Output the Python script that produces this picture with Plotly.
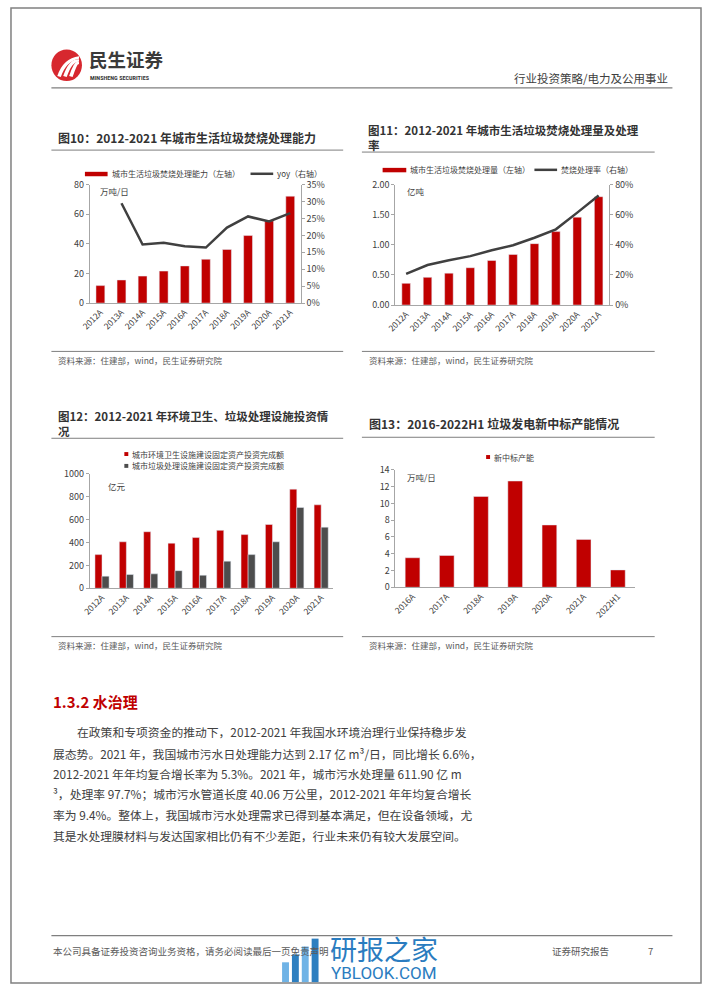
import plotly.graph_objects as go

W, H = 702, 991
FONT = "Noto Sans CJK SC"
RED = "#C00000"
DARK = "#404040"
GREY_BAR = "#4D4D4D"
AX = "#A6A6A6"

# ---------------- data ----------------
years_a = ["2012A", "2013A", "2014A", "2015A", "2016A", "2017A", "2018A", "2019A", "2020A", "2021A"]

cap_vals = [11.8, 15.6, 18.2, 21.6, 25.1, 29.6, 36.2, 45.6, 55.6, 72.2]          # 万吨/日
cap_yoy_years = years_a[1:]
cap_yoy = [0.295, 0.173, 0.178, 0.168, 0.164, 0.223, 0.256, 0.241, 0.266]

vol_vals = [0.36, 0.46, 0.53, 0.62, 0.74, 0.84, 1.02, 1.22, 1.46, 1.80]           # 亿吨
vol_rate = [0.207, 0.266, 0.298, 0.325, 0.364, 0.397, 0.447, 0.503, 0.614, 0.728]

inv_env = [294, 406, 494, 394, 443, 506, 469, 557, 866, 729]                      # 亿元
inv_waste = [106, 120, 126, 154, 114, 237, 294, 406, 706, 534]

years_b = ["2016A", "2017A", "2018A", "2019A", "2020A", "2021A", "2022H1"]
bid_vals = [3.52, 3.79, 10.83, 12.67, 7.43, 5.71, 2.07]                           # 万吨/日

para_lines = [
    "在政策和专项资金的推动下，2012-2021 年我国水环境治理行业保持稳步发",
    "展态势。2021 年，我国城市污水日处理能力达到 2.17 亿 m³/日，同比增长 6.6%，",
    "2012-2021 年年均复合增长率为 5.3%。2021 年，城市污水处理量 611.90 亿 m",
    "³，处理率 97.7%；城市污水管道长度 40.06 万公里，2012-2021 年年均复合增长",
    "率为 9.4%。整体上，我国城市污水处理需求已得到基本满足，但在设备领域，尤",
    "其是水处理膜材料与发达国家相比仍有不少差距，行业未来仍有较大发展空间。",
]


def X(px):
    return px / W


def Y(py):
    return 1 - py / H


fig = go.Figure()

# ---------------- traces ----------------
fig.add_trace(go.Bar(x=years_a, y=cap_vals, marker_color=RED, width=0.42,
                     xaxis="x", yaxis="y", showlegend=False))
fig.add_trace(go.Scatter(x=cap_yoy_years, y=cap_yoy, mode="lines",
                         line=dict(color=DARK, width=2.5), xaxis="x", yaxis="y2", showlegend=False))

fig.add_trace(go.Bar(x=years_a, y=vol_vals, marker_color=RED, width=0.4,
                     xaxis="x2", yaxis="y3", showlegend=False))
fig.add_trace(go.Scatter(x=years_a, y=vol_rate, mode="lines",
                         line=dict(color=DARK, width=2.5), xaxis="x2", yaxis="y4", showlegend=False))

fig.add_trace(go.Bar(x=years_a, y=inv_env, marker_color=RED, width=0.29, offset=-0.29,
                     xaxis="x3", yaxis="y5", showlegend=False))
fig.add_trace(go.Bar(x=years_a, y=inv_waste, marker_color=GREY_BAR, width=0.29, offset=0.0,
                     xaxis="x3", yaxis="y5", showlegend=False))

fig.add_trace(go.Bar(x=years_b, y=bid_vals, marker_color=RED, width=0.43,
                     xaxis="x4", yaxis="y6", showlegend=False))

tickfont = dict(family=FONT, size=9, color=DARK)


def xax(d0, d1, anchor):
    return dict(domain=[X(d0), X(d1)], anchor=anchor, type="category",
                showline=True, linecolor=AX, linewidth=1, ticks="",
                tickangle=-45, tickfont=dict(family=FONT, size=8.5, color=DARK),
                showgrid=False, fixedrange=True)


def yax(t, b, anchor, rng, dtick, fmt=None):
    d = dict(domain=[Y(b), Y(t)], anchor=anchor, range=rng, dtick=dtick,
             showline=True, linecolor=AX, linewidth=1, ticks="outside", ticklen=3,
             tickcolor=AX, tickfont=tickfont, showgrid=False, zeroline=False,
             fixedrange=True)
    if fmt:
        d["tickformat"] = fmt
    return d


def yright(over, anchor, rng, dtick, fmt):
    return dict(overlaying=over, side="right", anchor=anchor, range=rng, dtick=dtick,
                tickformat=fmt, showline=True, linecolor=AX, linewidth=1,
                ticks="outside", ticklen=3, tickcolor=AX, tickfont=tickfont,
                showgrid=False, zeroline=False, fixedrange=True)


layout = dict(
    width=W, height=H, margin=dict(l=0, r=0, t=0, b=0),
    paper_bgcolor="white", plot_bgcolor="rgba(0,0,0,0)",
    barmode="overlay", showlegend=False,
    font=dict(family=FONT, color=DARK),
    xaxis=xax(81, 295, "y"),
    yaxis=yax(180, 300, "x", [0, 80], 20),
    yaxis2=yright("y", "x", [0, 0.35], 0.05, ".0%"),
    xaxis2=xax(391, 608, "y3"),
    yaxis3=yax(180, 302, "x2", [0, 2], 0.5, ".2f"),
    yaxis4=yright("y3", "x2", [0, 0.8], 0.2, ".0%"),
    xaxis3=xax(81, 328, "y5"),
    yaxis5=yax(473, 589, "x3", [0, 1000], 200),
    xaxis4=xax(391, 634, "y6"),
    yaxis6=yax(469, 588, "x4", [0, 14], 2),
)
fig.update_layout(**layout)

shapes = []
ann = []


def line(x0, y0, x1, y1, color="#808080", width=1):
    shapes.append(dict(type="line", xref="paper", yref="paper",
                       x0=X(x0), y0=Y(y0), x1=X(x1), y1=Y(y1),
                       line=dict(color=color, width=width)))


def rect(x0, y0, x1, y1, color, lw=0, lc=None, fill=True):
    shapes.append(dict(type="rect", xref="paper", yref="paper",
                       x0=X(x0), y0=Y(y0), x1=X(x1), y1=Y(y1),
                       fillcolor=color if fill else "rgba(0,0,0,0)",
                       line=dict(width=lw, color=lc or color)))


def text(x, y, s, size=9, color=DARK, anchor="left", bold=False, family=FONT):
    if bold:
        s = "<b>" + s + "</b>"
    ann.append(dict(xref="paper", yref="paper", x=X(x), y=Y(y), text=s,
                    showarrow=False, xanchor=anchor, yanchor="middle", align="left",
                    font=dict(family=family, size=size, color=color)))


# page border
rect(1, 1, 701, 989, "white", lw=1.5, lc="#808080", fill=False)

# header
shapes.append(dict(type="circle", xref="paper", yref="paper",
                   x0=X(42), y0=Y(75), x1=X(73), y1=Y(43),
                   fillcolor="#D7282F", line=dict(width=0)))
for i in range(3):
    shapes.append(dict(type="path", xref="paper", yref="paper",
                       path=f"M {X(48+i*6)},{Y(70)} Q {X(54+i*6)},{Y(52)} {X(70)},{Y(50+i*3)} L {X(70)},{Y(52.5+i*3)} Q {X(57+i*6)},{Y(55)} {X(51.5+i*6)},{Y(71)} Z",
                       fillcolor="white", line=dict(width=0)))
text(78, 52.5, "民生证券", size=18.5, color="#3A3A3A", bold=True)
text(79, 72, "MINSHENG SECURITIES", size=6.2, color="#3A3A3A", bold=True, family="Roboto Condensed, Roboto")
text(670, 72, "行业投资策略/电力及公用事业", size=11.5, color="#404040", anchor="right")
line(42, 82, 672, 82, "#7F7F7F", 1.2)

# chart titles
text(47, 132, "图10：2012-2021 年城市生活垃圾焚烧处理能力", size=12, color="#333333", bold=True)
line(42, 145, 338, 145, "#7F7F7F", 1)
text(361, 132.5, "图11：2012-2021 年城市生活垃圾焚烧处理量及处理<br>率", size=11.5, color="#333333", bold=True)
line(357, 147, 654, 147, "#7F7F7F", 1)

text(47, 422.5, "图12：2012-2021 年环境卫生、垃圾处理设施投资情<br>况", size=11.5, color="#333333", bold=True)
line(42, 437, 338, 437, "#7F7F7F", 1)
text(362, 422, "图13：2016-2022H1 垃圾发电新中标产能情况", size=12, color="#333333", bold=True)
line(357, 436, 654, 436, "#7F7F7F", 1)

# legends
rect(76, 167, 99, 171.5, RED)
text(101, 169, "城市生活垃圾焚烧处理能力（左轴）", size=8)
line(244, 169, 267, 169, DARK, 2.5)
text(269, 169, "yoy（右轴）", size=8)

rect(378, 163, 402, 167.5, RED)
text(404, 165, "城市生活垃圾焚烧处理量（左轴）", size=8)
line(532, 165, 555, 165, DARK, 2.5)
text(557, 165, "焚烧处理率（右轴）", size=8)

rect(116, 451, 120, 455, RED)
text(122, 453, "城市环境卫生设施建设固定资产投资完成额", size=8)
rect(116, 463, 120, 467, GREY_BAR)
text(122, 465, "城市垃圾处理设施建设固定资产投资完成额", size=8)

rect(483, 454, 487, 458, RED)
text(489, 456, "新中标产能", size=8)

# unit labels
text(89, 186, "万吨/日", size=8.5)
text(401, 186, "亿吨", size=8.5)
text(97, 485, "亿元", size=8.5)
text(401, 476, "万吨/日", size=8.5)

# sources
line(42, 349, 338, 349, "#7F7F7F", 1)
line(357, 349, 654, 349, "#7F7F7F", 1)
text(47, 358, "资料来源：住建部，wind，民生证券研究院", size=8.5, color="#595959")
text(362, 358, "资料来源：住建部，wind，民生证券研究院", size=8.5, color="#595959")
line(42, 638, 338, 638, "#7F7F7F", 1)
line(357, 638, 654, 638, "#7F7F7F", 1)
text(47, 646, "资料来源：住建部，wind，民生证券研究院", size=8.5, color="#595959")
text(362, 646, "资料来源：住建部，wind，民生证券研究院", size=8.5, color="#595959")

# section text
text(42, 704, "1.3.2 水治理", size=15, color=RED, bold=True)
ys = [734, 756, 777, 797, 818, 840]
for i, (s, yy) in enumerate(zip(para_lines, ys)):
    text(66 if i == 0 else 42, yy, s, size=11.8, color="#404040")

# footer
line(42, 941, 672, 941, "#7F7F7F", 1.2)
text(42, 957, "本公司具备证券投资咨询业务资格，请务必阅读最后一页免责声明", size=9.5, color="#595959")
text(548, 957, "证券研究报告", size=9.5, color="#595959")
text(650, 957, "7", size=9.5, color="#595959", anchor="center")

# watermark
for i, (h0) in enumerate([968, 960, 952, 944]):
    rect(276 + i * 10, h0, 283 + i * 10, 988, "#6FB3E6" if i % 2 == 0 else "#2D7FC0")
text(323, 954, "研报之家", size=27, color="#2A7CC0", bold=False)
text(324, 979, "YBLOOK.COM", size=17, color="#2A7CC0", family="Roboto")

fig.update_layout(shapes=shapes, annotations=ann)
fig.write_html("out.html", config={"displayModeBar": False},
               post_script="document.body.style.margin='0px';document.body.style.overflow='hidden';")
